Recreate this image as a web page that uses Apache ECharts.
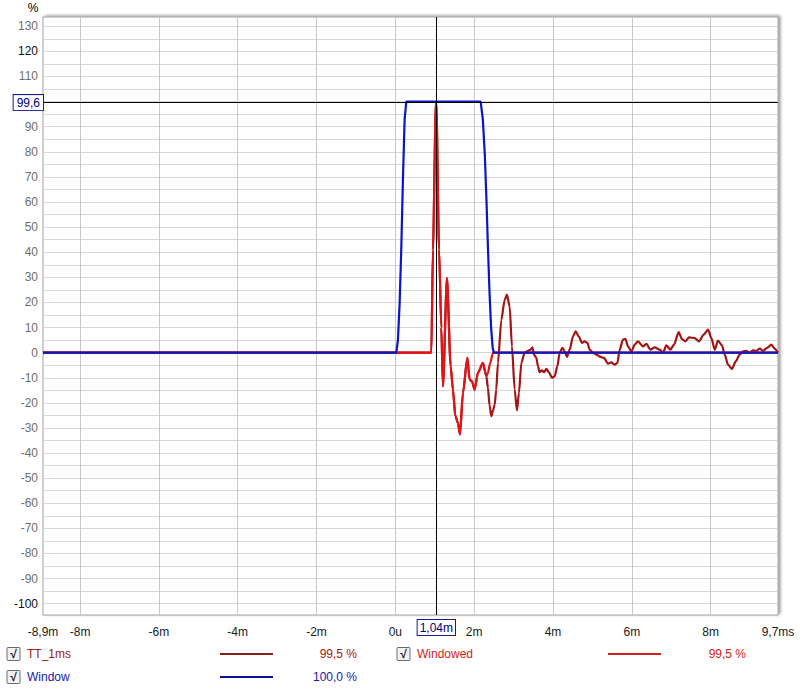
<!DOCTYPE html>
<html>
<head>
<meta charset="utf-8">
<script src="https://cdn.jsdelivr.net/npm/echarts@6/dist/echarts.min.js"></script>
<style>
  html, body { margin: 0; padding: 0; background: #fff; }
  #chart { width: 800px; height: 692px; }
</style>
</head>
<body>
<div id="chart"></div>
<script>
// ---- Axis ranges and ticks ----
const xMin = -8.94;
const xMax = 9.71;
const yMin = -104.5;
const yMax = 133.7;
const xTickValues = [-8.94, -8, -6, -4, -2, 0, 2, 4, 6, 8, 9.71];
const xTickLabels = ['-8,9m', '-8m', '-6m', '-4m', '-2m', '0u', '2m', '4m', '6m', '8m', '9,7ms'];
const xGridValues = [-8, -6, -4, -2, 0, 2, 4, 6, 8];
// 100 is hidden behind the cursor readout box in the reference
const yTickValues = [-100, -90, -80, -70, -60, -50, -40, -30, -20, -10, 0, 10, 20, 30, 40, 50, 60, 70, 80, 90, 110, 120, 130];
const yGridValues = [-100, -95, -90, -85, -80, -75, -70, -65, -60, -55, -50, -45, -40, -35, -30, -25, -20, -15, -10, -5, 0, 5, 10, 15, 20, 25, 30, 35, 40, 45, 50, 55, 60, 65, 70, 75, 80, 85, 90, 95, 100, 105, 110, 115, 120, 125, 130];
const yDarkLabels = [120, -100];

// ---- Cursor ----
const cursorX = 1.04;
const cursorY = 99.6;
const cursorXLabel = '1,04m';
const cursorYLabel = '99,6';

// ---- Series: TT_1ms (ms, %) ----
const ttTime = [-8.94, 0.914, 0.954, 1.03, 1.04, 1.11, 1.167, 1.208, 1.31, 1.404, 1.462, 1.523, 1.589, 1.64, 1.716, 1.827, 1.886, 1.944, 2.013, 2.096, 2.223, 2.31, 2.35, 2.39, 2.437, 2.48, 2.52, 2.56, 2.604, 2.69, 2.774, 2.832, 2.901, 2.959, 3.028, 3.086, 3.137, 3.198, 3.282, 3.365, 3.434, 3.477, 3.518, 3.579, 3.619, 3.662, 3.721, 3.772, 3.832, 3.898, 3.975, 4.043, 4.112, 4.17, 4.239, 4.297, 4.355, 4.424, 4.508, 4.576, 4.652, 4.736, 4.805, 4.873, 4.931, 5.015, 5.102, 5.211, 5.294, 5.396, 5.482, 5.566, 5.634, 5.693, 5.777, 5.838, 5.904, 5.99, 6.074, 6.157, 6.284, 6.371, 6.472, 6.581, 6.708, 6.792, 6.878, 6.98, 7.071, 7.19, 7.274, 7.36, 7.452, 7.597, 7.706, 7.825, 7.934, 8.02, 8.104, 8.188, 8.289, 8.358, 8.442, 8.543, 8.637, 8.738, 8.822, 8.909, 8.992, 9.076, 9.162, 9.246, 9.33, 9.431, 9.543, 9.627, 9.71];
const ttValue = [0, 0, 41, 99.8, 99.5, 41, 10, -13.4, 29.7, -5.4, -14.7, -25.3, -28, -32.6, -16, -2.1, -10.7, -11.4, -14.7, -8, -4.1, -9.4, -14, -21, -25.3, -23, -20.8, -14.8, -4.1, 13.1, 21, 23.1, 18.4, 2.5, -14.7, -23, -16, -4.1, 0, 0.7, 1.2, 2.1, -0.8, -2.1, -5.4, -7.8, -7, -7.8, -6.5, -7.8, -10, -9.4, -5.4, 0, 1.9, 0.5, -1.7, 1.2, 6.5, 8.5, 6.5, 3.9, 4.5, 3.9, 1.2, 0, -0.8, -1.7, -2.1, -4.4, -3.9, -4.8, -4.1, 1.2, 5.2, 5.5, 2.5, 0.5, 3.2, 4.5, 2.5, 3.5, 1.2, 2.1, 1.2, 0, 2.9, 1.2, 3.2, 8.2, 5.4, 4.5, 6.1, 5.8, 4.5, 7.2, 9.2, 5.8, 1.2, 4.8, 2.9, -0.8, -4.8, -6.5, -3.5, -0.8, 0.5, 0.7, 0, 0.9, 0.7, 1.6, 0.7, 1.9, 3.2, 1.5, 0];

// ---- Series: Windowed ----
const wdTime = [-8.94, 0.914, 0.954, 1.03, 1.04, 1.11, 1.167, 1.208, 1.31, 1.404, 1.462, 1.523, 1.589, 1.64, 1.716, 1.827, 1.886, 1.944, 2.013, 2.096, 2.223, 2.31, 2.35, 2.40, 2.48, 9.71];
const wdValue = [0, 0, 41, 99.8, 99.5, 41, 10, -13.4, 29.7, -5.4, -14.7, -25.3, -28, -32.6, -16, -2.1, -10.7, -11.4, -14.7, -8, -4.1, -9.4, -8.1, -4.5, 0, 0];

// ---- Series: Window ----
const wTime = [-8.94, 0.025, 0.066, 0.11, 0.152, 0.193, 0.236, 0.279, 2.165, 2.22, 2.27, 2.31, 2.35, 2.39, 2.43, 2.47, 2.50, 9.71];
const wValue = [0, 0, 5, 20, 42, 69, 93, 100, 100, 93, 79, 62, 42, 24, 10, 2, 0, 0];

// ---- Legend entries ----
const legendNames = ['TT_1ms', 'Windowed', 'Window'];
const legendValues = ['99,5 %', '99,5 %', '100,0 %'];

const colTT = '#a31414';
const colWd = '#e01414';
const colW = '#0a14c8';

function zip(a, b) { return a.map((v, i) => [v, b[i]]); }

const chart = echarts.init(document.getElementById('chart'), null, { renderer: 'svg' });
const font = 'Liberation Sans, Arial, sans-serif';

function legendItem(x, y, name, value, txtCol, lineCol, lineX, valX) {
  return [
    { type: 'rect', shape: { x: x, y: y - 6.5, width: 13, height: 13, r: 1 },
      style: { fill: '#f2f2f2', stroke: '#6a6a6a', lineWidth: 1 } },
    { type: 'text', style: { x: x + 6.5, y: y, text: '√', fill: '#111', font: 'bold 12px ' + font, textAlign: 'center', textVerticalAlign: 'middle' } },
    { type: 'text', style: { x: x + 20, y: y, text: name, fill: txtCol, font: '12px ' + font, textVerticalAlign: 'middle' } },
    { type: 'line', shape: { x1: lineX, y1: y, x2: lineX + 53, y2: y }, style: { stroke: lineCol, lineWidth: 2 } },
    { type: 'text', style: { x: valX, y: y, text: value, fill: txtCol, font: '12px ' + font, textAlign: 'right', textVerticalAlign: 'middle' } }
  ];
}

const graphics = [].concat(
  [{ type: 'text', style: { x: 33, y: 8, text: '%', fill: '#000', font: '12px ' + font, textAlign: 'center', textVerticalAlign: 'middle' } }],
  legendItem(7, 654, legendNames[0], legendValues[0], '#a01818', '#8b1c1c', 220, 357),
  legendItem(397, 654, legendNames[1], legendValues[1], '#d42020', '#d42020', 608, 746),
  legendItem(7, 677, legendNames[2], legendValues[2], '#1818b0', '#101090', 220, 357)
);

const option = {
  animation: false,
  backgroundColor: '#fff',
  textStyle: { fontFamily: font },
  grid: {
    left: 43, right: 22, top: 17, bottom: 77,
    show: true, backgroundColor: '#fff',
    borderColor: '#a0a0a0', borderWidth: 1,
    shadowColor: 'rgba(0,0,0,0.4)', shadowBlur: 3, shadowOffsetX: 2, shadowOffsetY: -1
  },
  xAxis: {
    type: 'value', min: xMin, max: xMax,
    axisLine: { show: false },
    axisTick: { show: false, customValues: xGridValues },
    splitLine: { show: true, lineStyle: { color: '#c8c8c8', width: 1 } },
    axisLabel: {
      customValues: xTickValues,
      margin: 11,
      color: '#1a1a1a', fontSize: 12, fontFamily: font,
      formatter: function (v) {
        let best = 0, d = 1e9;
        xTickValues.forEach((t, i) => { if (Math.abs(t - v) < d) { d = Math.abs(t - v); best = i; } });
        return xTickLabels[best];
      }
    }
  },
  yAxis: {
    type: 'value', min: yMin, max: yMax,
    axisLine: { show: false },
    axisTick: { show: false, customValues: yGridValues },
    splitLine: { show: true, lineStyle: { color: '#d6d6d6', width: 1 } },
    axisLabel: {
      customValues: yTickValues,
      margin: 5,
      fontSize: 12, fontFamily: font,
      color: function (v) { return yDarkLabels.indexOf(Number(v)) >= 0 ? '#111' : '#6e6e6e'; },
      formatter: function (v) { return String(v); }
    }
  },
  series: [
    {
      name: 'TT_1ms', type: 'line', data: zip(ttTime, ttValue),
      showSymbol: false, symbol: 'none', smooth: 0.25, smoothMonotone: 'x',
      lineStyle: { color: colTT, width: 2.2 }, z: 2
    },
    {
      name: 'Windowed', type: 'line', data: zip(wdTime, wdValue),
      showSymbol: false, symbol: 'none', smooth: 0.25, smoothMonotone: 'x',
      lineStyle: { color: colWd, width: 2.2 }, z: 3
    },
    {
      name: 'Window', type: 'line', data: zip(wTime, wValue),
      showSymbol: false, symbol: 'none', lineStyle: { color: colW, width: 2.2 }, z: 4,
      markLine: {
        silent: true, symbol: ['none', 'none'], animation: false,
        lineStyle: { color: '#000', width: 1, type: 'solid' },
        emphasis: { disabled: true },
        data: [
          { xAxis: cursorX, label: {
              show: true, position: 'start', formatter: cursorXLabel, distance: 5,
              color: '#000080', fontSize: 12, fontFamily: font,
              backgroundColor: '#fff', borderColor: '#1a1a90', borderWidth: 1, padding: [2, 2, 1, 2] } },
          { yAxis: cursorY, label: {
              show: true, position: 'start', formatter: cursorYLabel, distance: 0,
              color: '#000080', fontSize: 12, fontFamily: font,
              backgroundColor: '#fff', borderColor: '#1a1a90', borderWidth: 1, padding: [2, 3, 1, 3] } }
        ]
      }
    }
  ],
  graphic: graphics
};
chart.setOption(option);
</script>
</body>
</html>
